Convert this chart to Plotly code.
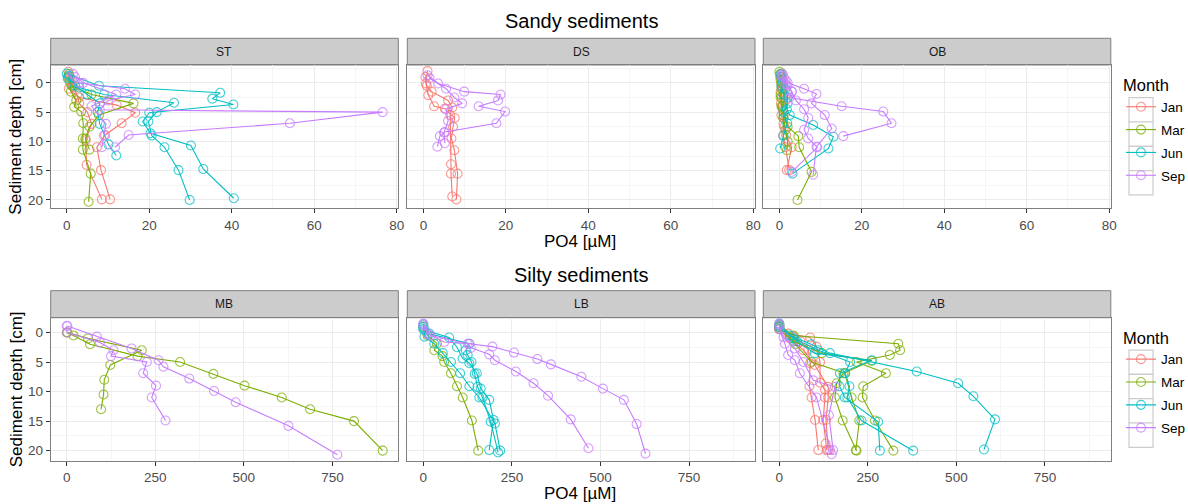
import plotly.graph_objects as go

# ---------------- data ----------------
MONTHS = ["Jan", "Mar", "Jun", "Sep"]
STATIONS_TOP = ["ST", "DS", "OB"]
STATIONS_BOTTOM = ["MB", "LB", "AB"]
X_TICKS_TOP = [0, 20, 40, 60, 80]
X_TICKS_BOTTOM = [0, 250, 500, 750]
Y_TICKS = [0, 5, 10, 15, 20]

# ST
ST_JAN_A_DEPTH = [-1.9, -0.5, 1.0, 2.5, 3.8, 5.1, 6.9, 8.9, 11.0, 14.9, 19.9]
ST_JAN_A_PO4 = [0.4, 0.6, 0.5, 3.0, 12.1, 16.6, 13.3, 9.3, 7.3, 8.3, 10.5]
ST_JAN_B_DEPTH = [-1.0, 0.5, 2.0, 3.5, 5.0, 7.0, 9.8, 14.0, 19.9]
ST_JAN_B_PO4 = [0.8, 1.5, 2.5, 3.0, 5.0, 6.0, 4.6, 4.8, 8.5]
ST_MAR_A_DEPTH = [-1.5, 0.0, 1.5, 3.0, 4.1, 4.9, 6.9, 9.5, 11.4, 15.5, 20.3]
ST_MAR_A_PO4 = [0.5, 0.8, 1.0, 2.3, 1.8, 3.5, 4.0, 3.9, 3.9, 5.8, 5.3]
ST_MAR_B_DEPTH = [-1.0, 0.5, 2.0, 3.5, 5.5, 7.5, 9.5, 11.4]
ST_MAR_B_PO4 = [0.3, 1.2, 6.0, 16.2, 7.8, 5.5, 4.5, 5.5]
ST_JUN_A_DEPTH = [-1.6, 0.5, 1.7, 2.7, 3.7, 5.1, 6.6, 8.6, 10.7, 14.7, 19.7]
ST_JUN_A_PO4 = [0.0, 7.8, 37.2, 35.3, 40.4, 20.0, 18.4, 20.3, 30.1, 33.1, 40.5]
ST_JUN_B_DEPTH = [-0.8, 0.8, 2.0, 3.4, 5.0, 6.6, 9.0, 11.0, 14.9, 20.0]
ST_JUN_B_PO4 = [0.2, 3.0, 9.0, 26.0, 21.8, 19.8, 20.6, 23.7, 27.1, 29.8]
ST_JUN_C_DEPTH = [-1.2, 0.5, 2.0, 3.5, 5.0, 7.0, 10.5, 12.4]
ST_JUN_C_PO4 = [0.5, 2.0, 5.0, 8.0, 7.5, 8.0, 10.1, 12.0]
ST_SEP_A_DEPTH = [-1.0, 0.0, 1.0, 2.0, 3.0, 4.6, 5.0, 6.9, 8.9, 11.0]
ST_SEP_A_PO4 = [2.0, 3.0, 14.1, 16.6, 10.0, 8.0, 76.6, 54.1, 15.0, 11.7]
ST_SEP_B_DEPTH = [-1.5, 0.0, 2.0, 4.0, 7.0, 9.0, 11.0]
ST_SEP_B_PO4 = [1.5, 4.0, 12.0, 6.0, 9.5, 9.0, 8.5]

# DS
DS_JAN_A_DEPTH = [-2.0, 0.1, 2.1, 4.0, 4.4, 6.0, 7.5, 9.5, 11.5, 15.5, 19.9]
DS_JAN_A_PO4 = [1.0, 0.6, 1.2, 2.6, 5.2, 7.6, 7.2, 6.8, 7.5, 8.3, 8.0]
DS_JAN_B_DEPTH = [-1.0, 0.5, 1.5, 3.0, 4.2, 5.5, 13.9, 15.5, 19.4]
DS_JAN_B_PO4 = [0.5, 0.8, 2.0, 6.0, 7.0, 6.5, 6.7, 6.7, 7.0]
DS_SEP_A_DEPTH = [-1.3, 0.1, 1.5, 2.0, 3.0, 4.0, 4.9, 6.9, 8.4, 9.1, 10.9]
DS_SEP_A_PO4 = [1.0, 3.6, 9.9, 18.7, 18.1, 13.4, 19.8, 17.7, 5.2, 4.0, 3.4]
DS_SEP_B_DEPTH = [-0.8, 1.0, 2.5, 3.5, 4.5, 6.5, 8.5, 10.3]
DS_SEP_B_PO4 = [1.5, 5.5, 7.5, 9.4, 5.5, 6.0, 5.0, 5.2]

# OB
OB_JAN_A_DEPTH = [-1.6, -0.5, 0.5, 1.5, 2.5, 3.5, 4.5, 6.0, 7.5, 8.9, 11.0, 14.9]
OB_JAN_A_PO4 = [0.6, 0.8, 0.5, 0.3, 0.6, 0.4, 0.8, 1.0, 1.2, 1.6, 3.0, 1.8]
OB_JAN_B_DEPTH = [-1.0, 0.0, 1.0, 2.0, 3.0, 4.0, 5.5, 7.0, 9.0, 11.0, 14.9]
OB_JAN_B_PO4 = [0.2, 0.5, 0.8, 1.0, 1.5, 0.7, 0.5, 1.0, 0.9, 1.5, 2.4]
OB_MAR_A_DEPTH = [-1.9, -0.5, 1.0, 2.5, 4.0, 5.5, 7.5, 9.1, 11.0, 15.2, 20.0]
OB_MAR_A_PO4 = [0.0, 0.3, 0.5, 0.3, 0.5, 1.0, 2.0, 4.6, 4.8, 7.8, 4.4]
OB_MAR_B_DEPTH = [-1.5, 0.0, 2.0, 4.0, 6.0, 8.0, 10.0, 11.5]
OB_MAR_B_PO4 = [0.2, 0.5, 0.3, 0.8, 1.0, 1.5, 2.0, 1.8]
OB_JUN_A_DEPTH = [-1.5, 0.0, 1.0, 2.5, 4.5, 5.5, 7.2, 9.2, 11.2, 15.5]
OB_JUN_A_PO4 = [0.3, 0.8, 1.5, 2.0, 1.8, 2.5, 8.2, 13.1, 11.9, 3.2]
OB_JUN_B_DEPTH = [-1.0, 0.5, 2.0, 3.5, 5.0, 6.9, 9.0, 11.2]
OB_JUN_B_PO4 = [0.5, 0.5, 1.0, 2.0, 1.0, 1.9, 1.0, 0.2]
OB_SEP_A_DEPTH = [-1.5, -0.5, 0.5, 1.5, 2.5, 4.0, 4.9, 6.9, 9.1]
OB_SEP_A_PO4 = [0.8, 1.5, 2.0, 3.0, 2.5, 15.1, 25.2, 27.2, 15.5]
OB_SEP_B_DEPTH = [-1.0, 0.0, 1.0, 1.9, 3.5, 5.5, 7.8, 10.9, 15.7]
OB_SEP_B_PO4 = [1.0, 2.0, 6.0, 9.0, 7.8, 11.0, 12.7, 9.0, 8.2]
OB_SEP_C_DEPTH = [-1.2, 0.2, 1.5, 3.0, 4.5, 6.0, 8.0, 9.5, 11.0, 15.2]
OB_SEP_C_PO4 = [0.5, 1.5, 3.0, 4.0, 6.0, 7.0, 6.0, 7.0, 9.2, 3.0]

# MB
MB_MAR_A_DEPTH = [0.0, 0.5, 2.0, 4.0, 5.0, 7.0, 9.0, 11.0, 13.0, 15.0, 20.0]
MB_MAR_A_PO4 = [0, 19, 66, 200, 320, 414, 502, 607, 687, 811, 892]
MB_MAR_B_DEPTH = [0.0, 1.0, 3.0, 5.5, 8.0, 10.5, 13.0]
MB_MAR_B_PO4 = [2, 60, 212, 123, 106, 104, 97]
MB_SEP_A_DEPTH = [-1.1, 0.7, 2.7, 4.7, 5.8, 7.8, 9.9, 11.8, 15.8, 20.7]
MB_SEP_A_PO4 = [2, 85, 183, 259, 273, 346, 416, 477, 626, 764]
MB_SEP_B_DEPTH = [-1.1, 0.0, 1.7, 3.0, 4.0, 5.0, 6.9, 9.0, 11.0, 14.9]
MB_SEP_B_PO4 = [0, 1, 94, 132, 125, 226, 216, 252, 240, 279]

# LB
LB_MAR_A_DEPTH = [-1.0, 0.5, 1.9, 3.0, 4.0, 5.0, 6.9, 9.1, 11.0, 14.9, 20.0]
LB_MAR_A_PO4 = [0, 12, 38.5, 31, 54, 59, 78, 95, 111, 137, 155]
LB_JUN_A_DEPTH = [-1.4, -0.4, 0.85, 2.5, 4.4, 5.2, 6.9, 9.5, 11.4, 14.8, 19.9]
LB_JUN_A_PO4 = [0, 3, 73, 95, 111, 130, 151, 162, 186, 198, 186]
LB_JUN_B_DEPTH = [-0.9, 0.2, 1.9, 3.0, 3.8, 5.0, 7.0, 9.2, 11.0, 15.1, 20.3]
LB_JUN_B_PO4 = [0, 17, 130, 120, 125, 136, 145, 153, 167, 190, 211]
LB_JUN_C_DEPTH = [-0.6, 0.7, 1.9, 3.5, 5.0, 6.9, 9.1, 11.0, 15.4, 20.0]
LB_JUN_C_PO4 = [0, 3, 31, 55, 78, 104, 130, 158, 202, 217]
LB_SEP_A_DEPTH = [-1.2, 0.2, 1.6, 1.9, 2.4, 3.4, 4.5, 5.4, 7.5, 9.5, 11.4, 15.5, 20.5]
LB_SEP_A_PO4 = [0, 12, 59, 130, 195, 256, 322, 360, 446, 507, 566, 602, 627]
LB_SEP_B_DEPTH = [-1.5, 0.5, 1.9, 2.6, 3.7, 4.7, 6.6, 8.6, 10.7, 14.7, 19.6]
LB_SEP_B_PO4 = [0, 20, 125, 134, 186, 202, 261, 311, 352, 416, 466]

# AB
AB_JAN_A_DEPTH = [-1.2, 0.2, 0.85, 2.4, 5.0, 8.5, 9.7, 11.0, 14.8, 18.8, 19.9]
AB_JAN_A_PO4 = [0, 25, 87, 105, 115, 115, 129, 129, 124, 131, 134]
AB_JAN_B_DEPTH = [-0.9, 0.7, 1.5, 2.9, 5.2, 9.1, 11.0, 14.8, 19.9]
AB_JAN_B_PO4 = [0, 40, 60, 82, 87, 85, 91, 101, 110]
AB_JAN_C_DEPTH = [-0.6, 1.0, 3.0, 5.5, 9.2, 11.0, 14.8, 19.9]
AB_JAN_C_PO4 = [0, 30, 68, 100, 138, 138, 132, 138]
AB_MAR_A_DEPTH = [-1.2, 0.5, 1.9, 3.0, 3.8, 5.0, 6.9, 9.1, 11.0, 14.9, 20.0]
AB_MAR_A_PO4 = [0, 40, 336, 341, 312, 218, 301, 237, 235, 270, 322]
AB_MAR_B_DEPTH = [-0.9, 1.5, 3.5, 4.8, 6.9, 8.6, 11.0, 14.9, 20.0]
AB_MAR_B_PO4 = [0, 40, 120, 261, 181, 162, 157, 179, 218]
AB_MAR_C_DEPTH = [-0.6, 2.0, 5.0, 6.9, 11.0, 14.9, 19.9]
AB_MAR_C_PO4 = [0, 45, 91, 185, 204, 226, 216]
AB_JUN_A_DEPTH = [-1.5, 0.5, 2.0, 3.5, 6.6, 8.6, 10.8, 14.7, 19.8]
AB_JUN_A_PO4 = [0, 30, 90, 143, 388, 505, 548, 609, 578]
AB_JUN_B_DEPTH = [-1.2, 1.0, 3.0, 5.0, 6.9, 9.1, 11.0, 14.9, 20.0]
AB_JUN_B_PO4 = [0, 40, 110, 200, 186, 198, 192, 232, 378]
AB_JUN_C_DEPTH = [-0.9, 1.5, 3.5, 4.7, 6.9, 9.1, 11.0, 15.1, 20.0]
AB_JUN_C_PO4 = [0, 50, 100, 261, 171, 170, 185, 279, 284]
AB_SEP_A_DEPTH = [-1.5, -0.5, 1.9, 3.8, 4.7, 6.9, 11.0, 19.9, 20.6]
AB_SEP_A_PO4 = [0, 0, 16, 25, 44, 58, 105, 143, 148]
AB_SEP_B_DEPTH = [-1.2, 0.8, 2.7, 5.0, 8.1, 9.2, 14.0, 19.9]
AB_SEP_B_PO4 = [0, 12, 44, 68, 96, 157, 140, 152]

PROFILES = [
    ("ST", "Jan", ST_JAN_A_DEPTH, ST_JAN_A_PO4), ("ST", "Jan", ST_JAN_B_DEPTH, ST_JAN_B_PO4),
    ("ST", "Mar", ST_MAR_A_DEPTH, ST_MAR_A_PO4), ("ST", "Mar", ST_MAR_B_DEPTH, ST_MAR_B_PO4),
    ("ST", "Jun", ST_JUN_A_DEPTH, ST_JUN_A_PO4), ("ST", "Jun", ST_JUN_B_DEPTH, ST_JUN_B_PO4),
    ("ST", "Jun", ST_JUN_C_DEPTH, ST_JUN_C_PO4),
    ("ST", "Sep", ST_SEP_A_DEPTH, ST_SEP_A_PO4), ("ST", "Sep", ST_SEP_B_DEPTH, ST_SEP_B_PO4),
    ("DS", "Jan", DS_JAN_A_DEPTH, DS_JAN_A_PO4), ("DS", "Jan", DS_JAN_B_DEPTH, DS_JAN_B_PO4),
    ("DS", "Sep", DS_SEP_A_DEPTH, DS_SEP_A_PO4), ("DS", "Sep", DS_SEP_B_DEPTH, DS_SEP_B_PO4),
    ("OB", "Jan", OB_JAN_A_DEPTH, OB_JAN_A_PO4), ("OB", "Jan", OB_JAN_B_DEPTH, OB_JAN_B_PO4),
    ("OB", "Mar", OB_MAR_A_DEPTH, OB_MAR_A_PO4), ("OB", "Mar", OB_MAR_B_DEPTH, OB_MAR_B_PO4),
    ("OB", "Jun", OB_JUN_A_DEPTH, OB_JUN_A_PO4), ("OB", "Jun", OB_JUN_B_DEPTH, OB_JUN_B_PO4),
    ("OB", "Sep", OB_SEP_A_DEPTH, OB_SEP_A_PO4), ("OB", "Sep", OB_SEP_B_DEPTH, OB_SEP_B_PO4),
    ("OB", "Sep", OB_SEP_C_DEPTH, OB_SEP_C_PO4),
    ("MB", "Mar", MB_MAR_A_DEPTH, MB_MAR_A_PO4), ("MB", "Mar", MB_MAR_B_DEPTH, MB_MAR_B_PO4),
    ("MB", "Sep", MB_SEP_A_DEPTH, MB_SEP_A_PO4), ("MB", "Sep", MB_SEP_B_DEPTH, MB_SEP_B_PO4),
    ("LB", "Mar", LB_MAR_A_DEPTH, LB_MAR_A_PO4),
    ("LB", "Jun", LB_JUN_A_DEPTH, LB_JUN_A_PO4), ("LB", "Jun", LB_JUN_B_DEPTH, LB_JUN_B_PO4),
    ("LB", "Jun", LB_JUN_C_DEPTH, LB_JUN_C_PO4),
    ("LB", "Sep", LB_SEP_A_DEPTH, LB_SEP_A_PO4), ("LB", "Sep", LB_SEP_B_DEPTH, LB_SEP_B_PO4),
    ("AB", "Jan", AB_JAN_A_DEPTH, AB_JAN_A_PO4), ("AB", "Jan", AB_JAN_B_DEPTH, AB_JAN_B_PO4),
    ("AB", "Jan", AB_JAN_C_DEPTH, AB_JAN_C_PO4),
    ("AB", "Mar", AB_MAR_A_DEPTH, AB_MAR_A_PO4), ("AB", "Mar", AB_MAR_B_DEPTH, AB_MAR_B_PO4),
    ("AB", "Mar", AB_MAR_C_DEPTH, AB_MAR_C_PO4),
    ("AB", "Jun", AB_JUN_A_DEPTH, AB_JUN_A_PO4), ("AB", "Jun", AB_JUN_B_DEPTH, AB_JUN_B_PO4),
    ("AB", "Jun", AB_JUN_C_DEPTH, AB_JUN_C_PO4),
    ("AB", "Sep", AB_SEP_A_DEPTH, AB_SEP_A_PO4), ("AB", "Sep", AB_SEP_B_DEPTH, AB_SEP_B_PO4),
]

# ---------------- styling ----------------
# Positions are page pixels; the page body margin is removed after plotting so
# the 1188x504 figure fills the window exactly.
OFF = 0
W, H = 1188, 504
FONT = "Liberation Sans, Arial, sans-serif"
COLORS = {"Jan": (248, 118, 109), "Mar": (124, 174, 0), "Jun": (0, 191, 196), "Sep": (199, 124, 255)}

PANEL_X = [(50.7, 398.3), (407.3, 755.0), (763.3, 1110.8)]
ROW_Y = [(65.0, 208.3), (317.7, 461.0)]          # plot area, page pixels from top
STRIP_Y = [(38.3, 65.0), (290.7, 317.7)]
X_RANGES = [[-3.9, 80.4], [-45.2, 936.0]]
Y_RANGES = [[21.42, -3.05], [21.75, -2.5]]
X_DTICK = [(20, 10), (250, 125)]
TICK_SIZE = 13.5


def fx(px):
    return (px - OFF) / W


def fy(py):
    return 1 - (py - OFF) / H


STATIONS = STATIONS_TOP + STATIONS_BOTTOM
panel_index = {s: i for i, s in enumerate(STATIONS)}

fig = go.Figure()
shown = set()
for month in MONTHS:
    for station, m, depth, po4 in PROFILES:
        if m != month:
            continue
        i = panel_index[station]
        row = i // 3
        r, g, b = COLORS[month]
        key = (row, month)
        fig.add_trace(go.Scatter(
            x=po4, y=depth, mode="lines+markers",
            xaxis="x" if i == 0 else f"x{i+1}",
            yaxis="y" if i == 0 else f"y{i+1}",
            line=dict(color=f"rgb({r},{g},{b})", width=1.1),
            marker=dict(symbol="circle-open", size=9,
                        color=f"rgba({r},{g},{b},0.75)", line=dict(width=1.1)),
            name=month, legendgroup=f"{row}-{month}",
            legend="legend" if row == 0 else "legend2",
            showlegend=key not in shown,
        ))
        shown.add(key)

layout = dict(
    width=W, height=H, autosize=False,
    margin=dict(l=0, r=0, t=0, b=0, pad=0, autoexpand=False),
    paper_bgcolor="white", plot_bgcolor="white",
    font=dict(family=FONT, color="#000000"),
    shapes=[], annotations=[],
)

for i, station in enumerate(STATIONS):
    row, col = divmod(i, 3)
    x0, x1 = PANEL_X[col]
    y0, y1 = ROW_Y[row]
    xa = "xaxis" if i == 0 else f"xaxis{i+1}"
    ya = "yaxis" if i == 0 else f"yaxis{i+1}"
    xref = "x" if i == 0 else f"x{i+1}"
    yref = "y" if i == 0 else f"y{i+1}"
    major, minor = X_DTICK[row]
    layout[xa] = dict(
        domain=[fx(x0), fx(x1)], anchor=yref, range=X_RANGES[row],
        tickmode="array", tickvals=X_TICKS_TOP if row == 0 else X_TICKS_BOTTOM,
        ticks="outside", ticklen=4, tickwidth=1, tickcolor="#333333",
        tickfont=dict(size=TICK_SIZE, color="#4D4D4D", family=FONT),
        showgrid=True, gridcolor="#EBEBEB", gridwidth=1,
        minor=dict(tick0=0, dtick=minor, showgrid=True, gridcolor="#F5F5F5", gridwidth=0.6, ticks=""),
        zeroline=False, showline=True, linecolor="#7F7F7F", linewidth=1, mirror=True,
        fixedrange=True,
    )
    layout[ya] = dict(
        domain=[fy(y1), fy(y0)], anchor=xref, range=Y_RANGES[row],
        tickmode="array", tickvals=Y_TICKS,
        ticks="outside" if col == 0 else "", ticklen=4, tickwidth=1, tickcolor="#333333",
        showticklabels=(col == 0),
        tickfont=dict(size=TICK_SIZE, color="#4D4D4D", family=FONT),
        showgrid=True, gridcolor="#EBEBEB", gridwidth=1,
        minor=dict(tick0=0, dtick=2.5, showgrid=True, gridcolor="#F5F5F5", gridwidth=0.6, ticks=""),
        zeroline=False, showline=True, linecolor="#7F7F7F", linewidth=1, mirror=True,
        fixedrange=True,
    )
    sy0, sy1 = STRIP_Y[row]
    layout["shapes"].append(dict(
        type="rect", xref="paper", yref="paper", layer="below",
        x0=fx(x0), x1=fx(x1), y0=fy(sy1), y1=fy(sy0),
        fillcolor="#CCCCCC", line=dict(color="#7F7F7F", width=1)))
    layout["annotations"].append(dict(
        text=station, xref="paper", yref="paper", showarrow=False,
        x=fx((x0 + x1) / 2), y=fy((sy0 + sy1) / 2), xanchor="center", yanchor="middle",
        font=dict(size=12, color="#1A1A1A", family=FONT)))

ROW_TITLES = ["Sandy sediments", "Silty sediments"]
TITLE_Y = [21.5, 274.5]
XTITLE_Y = [241.0, 493.5]
for row in range(2):
    layout["annotations"].append(dict(
        text=ROW_TITLES[row], xref="paper", yref="paper", showarrow=False,
        x=fx(581), y=fy(TITLE_Y[row]), xanchor="center", yanchor="middle",
        font=dict(size=20, family=FONT)))
    layout["annotations"].append(dict(
        text="PO4 [µM]", xref="paper", yref="paper", showarrow=False,
        x=fx(580), y=fy(XTITLE_Y[row]), xanchor="center", yanchor="middle",
        font=dict(size=17, family=FONT)))
    y0, y1 = ROW_Y[row]
    layout["annotations"].append(dict(
        text="Sediment depth [cm]", xref="paper", yref="paper", showarrow=False,
        x=fx(16), y=fy((y0 + y1) / 2), xanchor="center", yanchor="middle", textangle=-90,
        font=dict(size=17, family=FONT)))
    # legend key boxes (ggplot style)
    base = 97.7 if row == 0 else 97.7 + 252.4
    for k in range(4):
        layout["shapes"].append(dict(
            type="rect", xref="paper", yref="paper", layer="below",
            x0=fx(1129), x1=fx(1153), y0=fy(base + 24.3 * (k + 1)), y1=fy(base + 24.3 * k),
            fillcolor="#FFFFFF", line=dict(color="#CCCCCC", width=1.2)))

for row, name in enumerate(["legend", "legend2"]):
    layout[name] = dict(
        title=dict(text="Month", font=dict(size=16.5, family=FONT), side="top"),
        x=fx(1121), y=fy(70.0 if row == 0 else 70.0 + 252.4), xanchor="left", yanchor="top",
        font=dict(size=13.5, family=FONT), bgcolor="rgba(0,0,0,0)",
        tracegroupgap=2.3, itemwidth=30, traceorder="grouped",
    )

fig.update_layout(**layout)
fig.write_html("out.html", config={"displayModeBar": False},
               post_script="document.body.style.margin='0px';")
